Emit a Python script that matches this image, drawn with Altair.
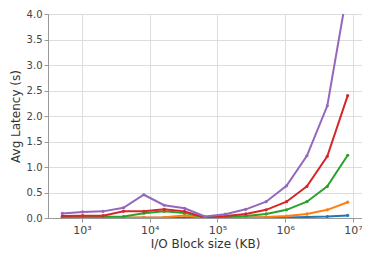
import altair as alt
import pandas as pd

block_kb = [512, 1024, 2048, 4096, 8192, 16384, 32768, 65536, 131072,
            262144, 524288, 1048576, 2097152, 4194304, 8388608]

series_names = ["s1", "s2", "s3", "s4", "s5"]
s1 = [0.005, 0.005, 0.005, 0.005, 0.005, 0.005, 0.005, 0.002, 0.005, 0.005, 0.008, 0.012, 0.02, 0.03, 0.05]
s2 = [0.01, 0.01, 0.01, 0.01, 0.01, 0.015, 0.05, 0.003, 0.01, 0.01, 0.02, 0.04, 0.08, 0.16, 0.31]
s3 = [0.02, 0.025, 0.025, 0.03, 0.095, 0.13, 0.10, 0.005, 0.02, 0.04, 0.08, 0.16, 0.32, 0.62, 1.23]
s4 = [0.04, 0.045, 0.045, 0.13, 0.13, 0.17, 0.13, 0.01, 0.04, 0.08, 0.16, 0.32, 0.62, 1.21, 2.40]
s5 = [0.09, 0.12, 0.13, 0.20, 0.456, 0.25, 0.19, 0.03, 0.075, 0.17, 0.32, 0.63, 1.22, 2.20, 4.50]
colors = ["#1f77b4", "#ff7f0e", "#2ca02c", "#d62728", "#9467bd"]

rows = []
for name, vals in zip(series_names, [s1, s2, s3, s4, s5]):
    for x, y in zip(block_kb, vals):
        rows.append({"block": x, "latency": y, "series": name})
df = pd.DataFrame(rows)

sup = "['⁰','¹','²','³','⁴','⁵','⁶','⁷','⁸']"
x = alt.X("block:Q", title="I/O Block size (KB)",
          scale=alt.Scale(type="log", domain=[315, 13650000], nice=False),
          axis=alt.Axis(values=[1000, 10000, 100000, 1000000, 10000000],
                        labelExpr="'10' + " + sup + "[round(log(datum.value)/LN10)]",
                        grid=True, labelFontSize=11, titleFontSize=12,
                        labelPadding=2, titlePadding=3))
y = alt.Y("latency:Q", title="Avg Latency (s)",
          scale=alt.Scale(domain=[0, 4], nice=False),
          axis=alt.Axis(values=[0, 0.5, 1.0, 1.5, 2.0, 2.5, 3.0, 3.5, 4.0], format=".1f",
                        labelFontSize=10, titleFontSize=12, labelPadding=2, titlePadding=4))
color = alt.Color("series:N", scale=alt.Scale(domain=series_names, range=colors), legend=None)

base = alt.Chart(df).encode(x=x, y=y, color=color, detail="series:N")
lines = base.mark_line(strokeWidth=2, clip=True)
points = base.mark_point(filled=True, size=10, opacity=1, clip=True)

chart = (lines + points).properties(
    width=314, height=204,
    autosize=alt.AutoSizeParams(type="none"),
    padding={"left": 40, "top": 6, "right": 0, "bottom": 33},
).configure_view(stroke="#999999", strokeWidth=1).configure_axis(
    labelFont="DejaVu Sans", titleFont="DejaVu Sans", labelColor="#444444",
    titleColor="#333333", titleFontWeight="normal", gridColor="#dddddd",
    domainColor="#999999", tickColor="#999999", tickSize=4
)

chart.save("out.html", embed_options={"renderer": "svg", "actions": False})
